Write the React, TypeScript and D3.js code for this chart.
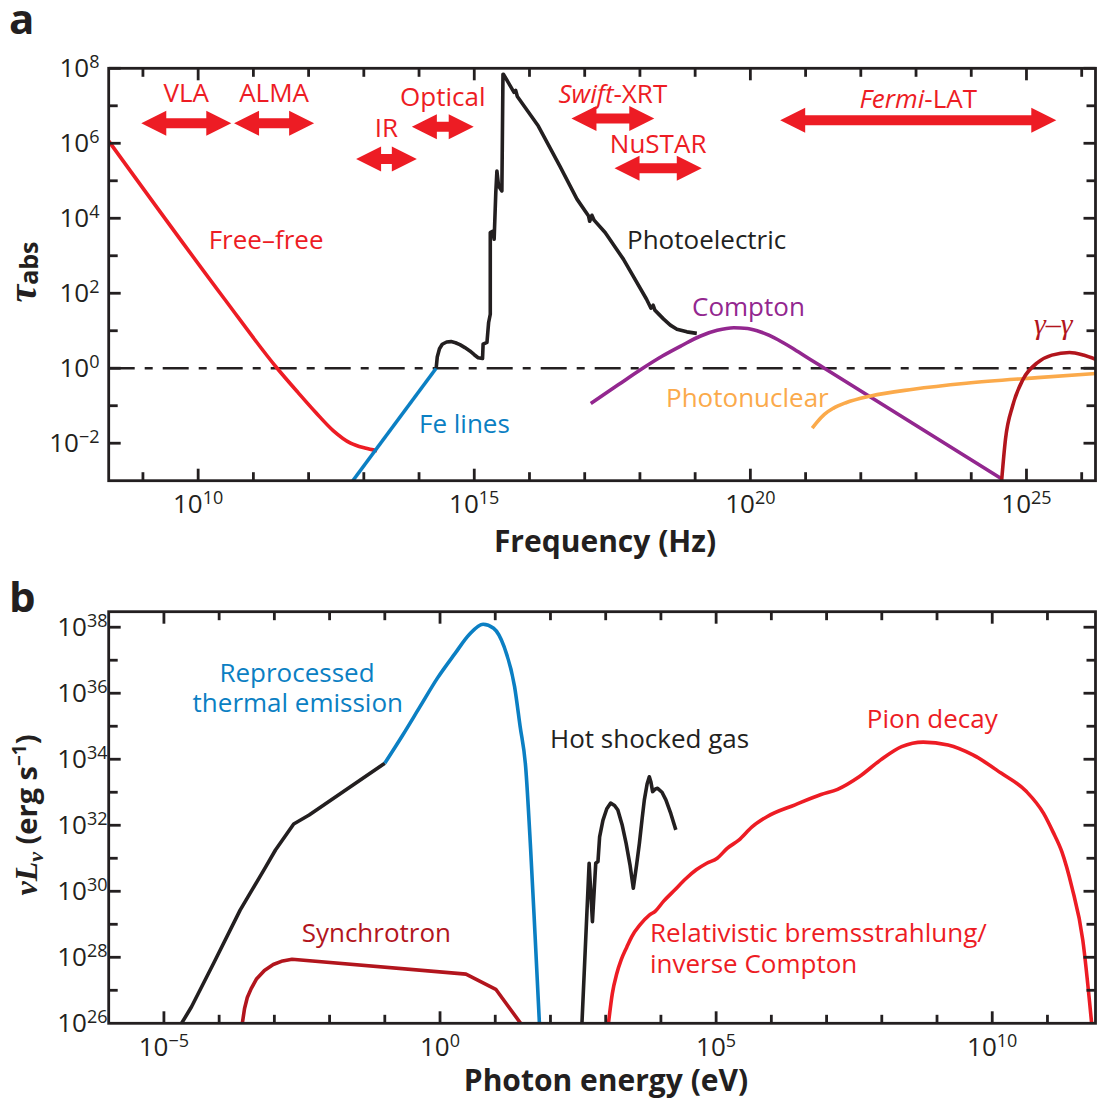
import React from "react";
import * as d3 from "d3";

const W = 1097;
const H = 1102;
const SANS = "'Open Sans', 'Noto Sans', 'DejaVu Sans', sans-serif";
const SERIF = "'Liberation Serif', 'DejaVu Serif', serif";

const C = {
  ink: "#231F20",
  red: "#ED1C24",
  darkRed: "#B2151D",
  blue: "#0B7FC3",
  purple: "#93278F",
  orange: "#FBAA4B",
};

// ---------- Panel a: optical depth vs frequency, [log10 ν (Hz), log10 τ] ----------
const freeFree: number[][] = [
  [8.38, 6.06], [10.48, 1.84], [11.43, 0], [11.81, -0.65], [12.13, -1.18],
  [12.45, -1.67], [12.76, -2.0], [13.02, -2.13], [13.24, -2.2],
];
const feLines: number[][] = [[12.8, -3.0], [14.31, 0]];
const photoelectric: number[][] = [
  [14.31, 0], [14.33, 0.3], [14.37, 0.52], [14.42, 0.64], [14.5, 0.7], [14.58, 0.71],
  [14.66, 0.68], [14.74, 0.63], [14.83, 0.55], [14.92, 0.46], [15.0, 0.36], [15.07, 0.28],
  [15.15, 0.26], [15.16, 0.64], [15.23, 0.69], [15.26, 1.22], [15.29, 1.44], [15.29, 3.62],
  [15.34, 3.66], [15.36, 3.44], [15.39, 4.69], [15.41, 5.26], [15.44, 4.86], [15.5, 4.73],
  [15.52, 7.84], [15.53, 7.84], [15.72, 7.36], [15.75, 7.41], [15.78, 7.25], [16.16, 6.46],
  [16.55, 5.39], [16.86, 4.51], [17.07, 4.06], [17.09, 3.92], [17.13, 4.08], [17.17, 3.95],
  [17.37, 3.62], [17.7, 2.91], [18.12, 1.84], [18.2, 1.6], [18.24, 1.68], [18.27, 1.55],
  [18.43, 1.31], [18.55, 1.15], [18.67, 1.04], [18.85, 0.97], [19.03, 0.93],
];
const compton: number[][] = [
  [17.11, -0.94], [17.6, -0.45], [18.03, -0.02], [18.4, 0.32], [18.75, 0.6], [19.1, 0.86],
  [19.4, 1.01], [19.7, 1.08], [19.95, 1.06], [20.2, 0.96], [20.5, 0.76], [20.8, 0.5],
  [21.1, 0.22], [21.34, 0.0], [24.56, -2.96],
];
const photonuclear: number[][] = [
  [21.12, -1.6], [21.2, -1.45], [21.34, -1.23], [21.5, -1.07], [21.73, -0.92], [22.18, -0.74],
  [22.95, -0.56], [23.91, -0.4], [25.2, -0.25], [26.28, -0.14],
];
const gammaGamma: number[][] = [
  [24.55, -3.0], [24.62, -1.89], [24.75, -1.0], [24.94, -0.29], [25.2, 0.15], [25.46, 0.35],
  [25.78, 0.42], [26.03, 0.35], [26.28, 0.22],
];

// Observatory bands, log10 ν range
const bandNames = ["VLA", "ALMA", "IR", "Optical", "Swift-XRT", "NuSTAR", "Fermi-LAT"];
const bandLo = [8.97, 10.65, 12.86, 13.87, 16.76, 17.54, 20.54];
const bandHi = [10.6, 12.1, 13.96, 14.99, 18.26, 19.12, 25.54];

// ---------- Panel b: luminosity vs photon energy, [log10 E (eV), log10 νLν] ----------
const radioIR: number[][] = [
  [-4.68, 26], [-4.5, 26.5], [-4.1, 27.82], [-3.62, 29.43], [-3.17, 30.7], [-2.98, 31.25],
  [-2.65, 32.04], [-2.37, 32.31], [-1.0, 33.88],
];
const thermal: number[][] = [
  [-1.0, 33.88], [-0.68, 34.72], [-0.36, 35.6], [-0.05, 36.45], [0.27, 37.2], [0.53, 37.78],
  [0.78, 38.09], [0.97, 37.97], [1.16, 37.41], [1.35, 36.2], [1.45, 35.0], [1.55, 33.78],
  [1.64, 31.3], [1.72, 28.7], [1.8, 26],
];
const synchrotron: number[][] = [
  [-3.58, 26], [-3.54, 26.45], [-3.49, 26.78], [-3.42, 27.05], [-3.32, 27.35], [-3.18, 27.6],
  [-3.02, 27.78], [-2.85, 27.89], [-2.68, 27.94], [0.47, 27.49], [1.01, 27.03], [1.46, 26],
];
const hotGas: number[][] = [
  [2.57, 26], [2.7, 30.85], [2.76, 29.08], [2.82, 30.85], [2.86, 30.9], [2.89, 31.65],
  [2.95, 32.15], [3.02, 32.5], [3.09, 32.67], [3.16, 32.6], [3.22, 32.46], [3.3, 32.0],
  [3.37, 31.45], [3.44, 30.8], [3.5, 30.09], [3.56, 30.8], [3.61, 31.45], [3.66, 32.2],
  [3.7, 32.77], [3.75, 33.25], [3.79, 33.47], [3.82, 33.3], [3.85, 33.02], [3.9, 33.1],
  [3.94, 33.12], [4.02, 33.0], [4.09, 32.77], [4.18, 32.35], [4.27, 31.86],
];
const pionBrems: number[][] = [
  [3.05, 26], [3.12, 26.9], [3.2, 27.5], [3.28, 27.92], [3.38, 28.3], [3.47, 28.62],
  [3.62, 28.98], [3.79, 29.28], [3.9, 29.4], [4.05, 29.7], [4.25, 30.04], [4.45, 30.38],
  [4.64, 30.65], [4.83, 30.85], [5.02, 31.0], [5.2, 31.3], [5.41, 31.55], [5.65, 31.95],
  [5.92, 32.26], [6.43, 32.62], [6.9, 32.93], [7.2, 33.09], [7.59, 33.47], [7.98, 33.98],
  [8.36, 34.38], [8.75, 34.52], [9.2, 34.43], [9.65, 34.13], [10.16, 33.58], [10.62, 33.02],
  [10.93, 32.36], [11.1, 31.8], [11.26, 31.2], [11.44, 30.14], [11.64, 28.52], [11.8, 26],
];

// ---------- layout ----------
const A = { left: 108.7, right: 1095.5, top: 68.3, bottom: 480.7 };
const B = { left: 108.7, right: 1095.5, top: 611.7, bottom: 1023.3 };

const xA = d3.scaleLog().domain([10 ** 8.38, 10 ** 26.25]).range([A.left, A.right]);
const yA = d3.scaleLog().domain([1e-3, 1e8]).range([A.bottom, A.top]);
const xB = d3.scaleLog().domain([1e-6, 10 ** 11.87]).range([B.left, B.right]);
const yB = d3.scaleLog().domain([1e26, 10 ** 38.47]).range([B.bottom, B.top]);

// vertical placement of band arrows and their labels (px)
const bandArrowY = [123.3, 123.3, 159, 126.7, 118.5, 168.3, 120.2];
const bandLabelY = [101.7, 101.7, 136.7, 106, 102.7, 152.7, 108.3];

function pathFor(
  pts: number[][],
  xs: d3.ScaleLogarithmic<number, number>,
  ys: d3.ScaleLogarithmic<number, number>,
  smooth: boolean
) {
  return (
    d3
      .line<number[]>()
      .x((d) => xs(10 ** d[0]))
      .y((d) => ys(10 ** d[1]))
      .curve(smooth ? d3.curveMonotoneX : d3.curveLinear)(pts) || ""
  );
}

function arrowPath(x1: number, x2: number, y: number) {
  const hl = 25, hh = 12.5, st = 5;
  return `M${x1},${y}L${x1 + hl},${y - hh}L${x1 + hl},${y - st}L${x2 - hl},${y - st}L${x2 - hl},${y - hh}L${x2},${y}L${x2 - hl},${y + hh}L${x2 - hl},${y + st}L${x1 + hl},${y + st}L${x1 + hl},${y + hh}Z`;
}

const expText = (e: number) => (e < 0 ? "\u2212" + Math.abs(e) : String(e));

function PowLabel({ x, y, exp, anchor }: { x: number; y: number; exp: number; anchor: string }) {
  return (
    <text x={x} y={y} textAnchor={anchor as any} fontFamily={SANS} fontSize={26} fill={C.ink}>
      10
      <tspan dy={-9} fontSize={18}>
        {expText(exp)}
      </tspan>
    </text>
  );
}

function Frame({
  box,
  xs,
  ys,
  xDec,
  yDec,
  xMajor,
  yLabels,
  yLabelX,
}: {
  box: typeof A;
  xs: d3.ScaleLogarithmic<number, number>;
  ys: d3.ScaleLogarithmic<number, number>;
  xDec: number[];
  yDec: number[];
  xMajor: number[];
  yLabels: number[];
  yLabelX: number;
}) {
  const sw = 2.8;
  const ticks: JSX.Element[] = [];
  xDec.forEach((e) => {
    const x = xs(10 ** e);
    const len = xMajor.includes(e) ? 12 : 8.5;
    ticks.push(<line key={"xb" + e} x1={x} x2={x} y1={box.bottom} y2={box.bottom - len} />);
    ticks.push(<line key={"xt" + e} x1={x} x2={x} y1={box.top} y2={box.top + len} />);
  });
  yDec.forEach((e) => {
    const y = ys(10 ** e);
    const len = yLabels.includes(e) ? 12 : 9;
    ticks.push(<line key={"yl" + e} x1={box.left} x2={box.left + len} y1={y} y2={y} />);
    ticks.push(<line key={"yr" + e} x1={box.right} x2={box.right - len} y1={y} y2={y} />);
  });
  return (
    <g>
      <g stroke={C.ink} strokeWidth={sw}>
        {ticks}
      </g>
      <rect
        x={box.left}
        y={box.top}
        width={box.right - box.left}
        height={box.bottom - box.top}
        fill="none"
        stroke={C.ink}
        strokeWidth={sw}
      />
      {xMajor.map((e) => (
        <PowLabel key={"xl" + e} x={xs(10 ** e)} y={box.bottom + 32.6} exp={e} anchor="middle" />
      ))}
      {yLabels.map((e) => (
        <PowLabel key={"yl" + e} x={yLabelX} y={ys(10 ** e) + 9} exp={e} anchor="end" />
      ))}
    </g>
  );
}

function Curve({ d, color, clip }: { d: string; color: string; clip: string }) {
  return (
    <path
      d={d}
      fill="none"
      stroke={color}
      strokeWidth={3.6}
      strokeLinejoin="round"
      strokeLinecap="butt"
      clipPath={`url(#${clip})`}
    />
  );
}

function Label({
  x,
  y,
  color,
  children,
  anchor = "start",
}: {
  x: number;
  y: number;
  color: string;
  children: React.ReactNode;
  anchor?: string;
}) {
  return (
    <text x={x} y={y} fill={color} fontFamily={SANS} fontSize={26} textAnchor={anchor as any}>
      {children}
    </text>
  );
}

export default function App() {
  const bandLabel = (name: string) => {
    const i = name.indexOf("-");
    if (name.startsWith("Swift") || name.startsWith("Fermi")) {
      return (
        <>
          <tspan fontStyle="italic">{name.slice(0, i)}</tspan>
          {name.slice(i)}
        </>
      );
    }
    return name;
  };

  return (
    <div style={{ position: "absolute", left: 0, top: 0 }}>
      <svg width={W} height={H} viewBox={`0 0 ${W} ${H}`} style={{ display: "block", background: "#fff" }}>
        <defs>
          <clipPath id="clipA">
            <rect x={A.left} y={A.top} width={A.right - A.left} height={A.bottom - A.top} />
          </clipPath>
          <clipPath id="clipB">
            <rect x={B.left} y={B.top} width={B.right - B.left} height={B.bottom - B.top} />
          </clipPath>
        </defs>

        {/* ---------------- Panel a ---------------- */}
        <text x={9} y={34} fontFamily={SANS} fontWeight="bold" fontSize={42} fill={C.ink}>
          a
        </text>

        <line
          x1={A.left}
          x2={A.right}
          y1={yA(1)}
          y2={yA(1)}
          stroke={C.ink}
          strokeWidth={2.4}
          strokeDasharray="26 10 8 10"
        />

        <Curve d={pathFor(freeFree, xA, yA, true)} color={C.red} clip="clipA" />
        <Curve d={pathFor(feLines, xA, yA, false)} color={C.blue} clip="clipA" />
        <Curve d={pathFor(photoelectric, xA, yA, false)} color={C.ink} clip="clipA" />
        <Curve d={pathFor(compton, xA, yA, true)} color={C.purple} clip="clipA" />
        <Curve d={pathFor(photonuclear, xA, yA, true)} color={C.orange} clip="clipA" />
        <Curve d={pathFor(gammaGamma, xA, yA, true)} color={C.darkRed} clip="clipA" />

        {bandNames.map((name, i) => {
          const x1 = xA(10 ** bandLo[i]);
          const x2 = xA(10 ** bandHi[i]);
          return (
            <g key={name}>
              <path d={arrowPath(x1, x2, bandArrowY[i])} fill={C.red} />
              <Label x={(x1 + x2) / 2} y={bandLabelY[i]} color={C.red} anchor="middle">
                {bandLabel(name)}
              </Label>
            </g>
          );
        })}

        <Label x={208.7} y={249.3} color={C.red}>Free–free</Label>
        <Label x={627} y={249.3} color={C.ink}>Photoelectric</Label>
        <Label x={692} y={315.7} color={C.purple}>Compton</Label>
        <Label x={666} y={406.7} color={C.orange}>Photonuclear</Label>
        <Label x={419} y={432.7} color={C.blue}>Fe lines</Label>
        <text x={1034} y={334} fill={C.darkRed} fontFamily={SERIF} fontStyle="italic" fontSize={30}>
          γ–γ
        </text>

        <Frame
          box={A}
          xs={xA}
          ys={yA}
          xDec={d3.range(9, 27)}
          yDec={d3.range(-2, 9)}
          xMajor={[10, 15, 20, 25]}
          yLabels={[-2, 0, 2, 4, 6, 8]}
          yLabelX={99.5}
        />

        <text
          x={605}
          y={552}
          textAnchor="middle"
          fontFamily={SANS}
          fontWeight="bold"
          fontSize={30}
          fill={C.ink}
        >
          Frequency (Hz)
        </text>
        <text transform="translate(36,272) rotate(-90)" textAnchor="middle" fill={C.ink}>
          <tspan fontFamily={SERIF} fontStyle="italic" fontWeight="bold" fontSize={40}>
            τ
          </tspan>
          <tspan fontFamily={SANS} fontWeight="bold" fontSize={25} dy={2}>
            abs
          </tspan>
        </text>

        {/* ---------------- Panel b ---------------- */}
        <text x={9} y={612} fontFamily={SANS} fontWeight="bold" fontSize={42} fill={C.ink}>
          b
        </text>

        <Curve d={pathFor(radioIR, xB, yB, false)} color={C.ink} clip="clipB" />
        <Curve d={pathFor(thermal, xB, yB, true)} color={C.blue} clip="clipB" />
        <Curve d={pathFor(synchrotron, xB, yB, false)} color={C.darkRed} clip="clipB" />
        <Curve d={pathFor(hotGas, xB, yB, false)} color={C.ink} clip="clipB" />
        <Curve d={pathFor(pionBrems, xB, yB, true)} color={C.red} clip="clipB" />

        <Label x={297} y={681.7} color={C.blue} anchor="middle">Reprocessed</Label>
        <Label x={297.8} y={711.7} color={C.blue} anchor="middle">thermal emission</Label>
        <Label x={550} y={748.3} color={C.ink}>Hot shocked gas</Label>
        <Label x={866.8} y={728.3} color={C.red}>Pion decay</Label>
        <Label x={301.7} y={941.7} color={C.darkRed}>Synchrotron</Label>
        <Label x={650} y={941.7} color={C.red}>Relativistic bremsstrahlung/</Label>
        <Label x={650} y={973.3} color={C.red}>inverse Compton</Label>

        <Frame
          box={B}
          xs={xB}
          ys={yB}
          xDec={d3.range(-5, 12)}
          yDec={d3.range(27, 39)}
          xMajor={[-5, 0, 5, 10]}
          yLabels={[26, 28, 30, 32, 34, 36, 38]}
          yLabelX={107.5}
        />

        <text
          x={606}
          y={1091}
          textAnchor="middle"
          fontFamily={SANS}
          fontWeight="bold"
          fontSize={30}
          fill={C.ink}
        >
          Photon energy (eV)
        </text>
        <text transform="translate(37,815) rotate(-90)" textAnchor="middle" fill={C.ink}>
          <tspan fontFamily={SERIF} fontStyle="italic" fontWeight="bold" fontSize={32}>
            ν
          </tspan>
          <tspan fontFamily={SERIF} fontStyle="italic" fontWeight="bold" fontSize={32}>
            L
          </tspan>
          <tspan fontFamily={SERIF} fontStyle="italic" fontWeight="bold" fontSize={22} dy={6}>
            ν
          </tspan>
          <tspan fontFamily={SANS} fontWeight="bold" fontSize={29} dy={-6}>
            {" (erg s"}
          </tspan>
          <tspan fontFamily={SANS} fontWeight="bold" fontSize={19} dy={-11}>
            −1
          </tspan>
          <tspan fontFamily={SANS} fontWeight="bold" fontSize={29} dy={11}>
            )
          </tspan>
        </text>
      </svg>
    </div>
  );
}
